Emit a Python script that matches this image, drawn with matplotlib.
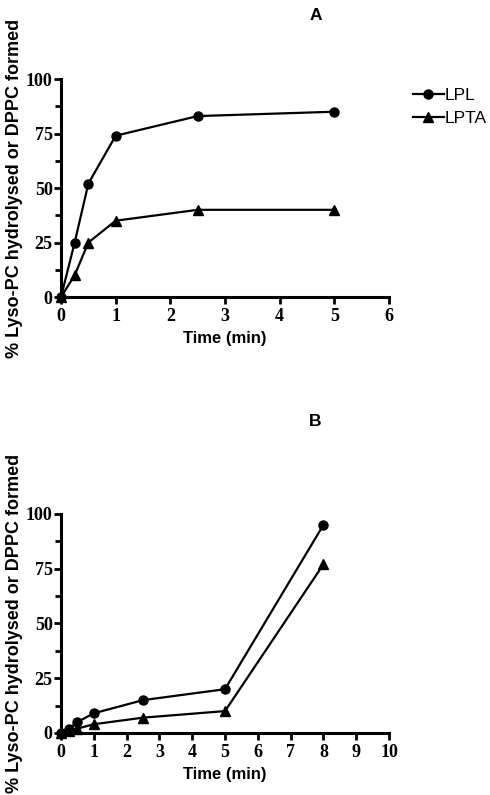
import matplotlib
matplotlib.use("Agg")
import matplotlib.pyplot as plt
from matplotlib.ticker import MultipleLocator

# Panel A data
time_a = [0, 0.25, 0.5, 1, 2.5, 5]
lpl_a = [0, 25, 52, 74, 83, 85]
lpta_a = [0, 10, 25, 35, 40, 40]

# Panel B data
time_b = [0, 0.25, 0.5, 1, 2.5, 5, 8]
lpl_b = [0, 2, 5, 9, 15, 20, 95]
lpta_b = [0, 1, 2, 4, 7, 10, 77]

ylabel = "% Lyso-PC hydrolysed or DPPC formed"
xlabel = "Time (min)"

fig = plt.figure(figsize=(4.9, 7.95), dpi=100)
axA = fig.add_axes([0.1245, 0.6264, 0.6694, 0.2742])
axB = fig.add_axes([0.1245, 0.078, 0.6694, 0.2755])

def style(ax, xmax, xstep):
    ax.set_xlim(0, xmax)
    ax.set_ylim(0, 100)
    ax.xaxis.set_major_locator(MultipleLocator(xstep))
    ax.yaxis.set_major_locator(MultipleLocator(25))
    ax.yaxis.set_minor_locator(MultipleLocator(12.5))
    for s in ["top", "right"]:
        ax.spines[s].set_visible(False)
    for s in ["left", "bottom"]:
        ax.spines[s].set_linewidth(2.2)
    ax.tick_params(axis="x", which="major", direction="out", length=5, width=2, pad=3)
    ax.tick_params(axis="y", which="major", direction="out", length=5, width=2, pad=1)
    ax.tick_params(which="minor", direction="out", length=4, width=2)
    for lab in ax.get_xticklabels() + ax.get_yticklabels():
        lab.set_fontfamily("Liberation Serif")
        lab.set_fontweight("bold")
        lab.set_fontsize(13)
    ax.set_xlabel(xlabel, family="Liberation Sans", weight="bold", size=12, labelpad=4)
    ax.set_ylabel(ylabel, family="Liberation Sans", weight="bold", size=13, labelpad=2)

lkw = dict(color="black", linewidth=1.6, markersize=6.5, clip_on=False)
axA.plot(time_a, lpl_a, marker="o", label="LPL", **lkw)
axA.plot(time_a, lpta_a, marker="^", label="LPTA", **lkw)
style(axA, 6, 1)
axA.legend(loc="upper left", bbox_to_anchor=(1.025, 1.03), frameon=False,
           prop=dict(family="Liberation Sans", size=12.5), handlelength=1.8,
           handletextpad=0.05, labelspacing=0.45)

axB.plot(time_b, lpl_b, marker="o", **lkw)
axB.plot(time_b, lpta_b, marker="^", **lkw)
style(axB, 10, 1)

fig.text(316 / 490, 1 - 15 / 795, "A", family="Liberation Sans", weight="bold",
         size=12.5, ha="center", va="center")
fig.text(315 / 490, 1 - 421 / 795, "B", family="Liberation Sans", weight="bold",
         size=12.5, ha="center", va="center")

fig.savefig("out.png", dpi=100)
